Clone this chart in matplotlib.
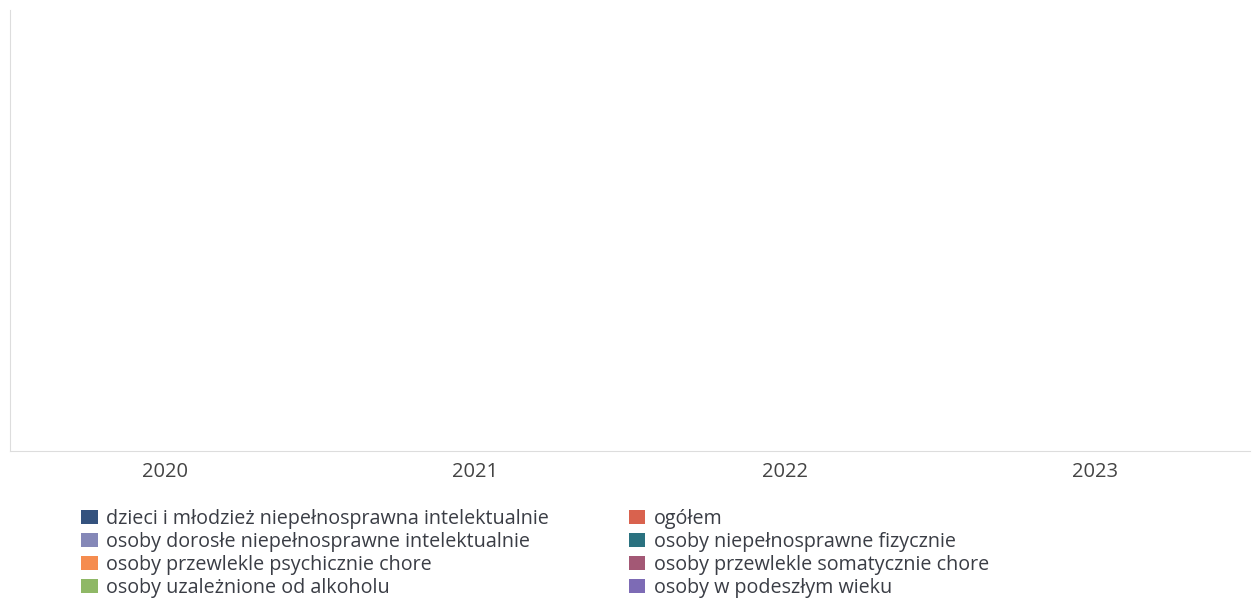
import matplotlib
matplotlib.use("Agg")
import matplotlib.pyplot as plt
import numpy as np

years = ["2020", "2021", "2022", "2023"]
series = [
    "dzieci i młodzież niepełnosprawna intelektualnie",
    "ogółem",
    "osoby dorosłe niepełnosprawne intelektualnie",
    "osoby niepełnosprawne fizycznie",
    "osoby przewlekle psychicznie chore",
    "osoby przewlekle somatycznie chore",
    "osoby uzależnione od alkoholu",
    "osoby w podeszłym wieku",
]
# the reference chart shows no visible bars: all values are zero
values = {
    "dzieci i młodzież niepełnosprawna intelektualnie": [0, 0, 0, 0],
    "ogółem": [0, 0, 0, 0],
    "osoby dorosłe niepełnosprawne intelektualnie": [0, 0, 0, 0],
    "osoby niepełnosprawne fizycznie": [0, 0, 0, 0],
    "osoby przewlekle psychicznie chore": [0, 0, 0, 0],
    "osoby przewlekle somatycznie chore": [0, 0, 0, 0],
    "osoby uzależnione od alkoholu": [0, 0, 0, 0],
    "osoby w podeszłym wieku": [0, 0, 0, 0],
}
colors = {
    "dzieci i młodzież niepełnosprawna intelektualnie": "#34527e",
    "ogółem": "#d9624e",
    "osoby dorosłe niepełnosprawne intelektualnie": "#8588b8",
    "osoby niepełnosprawne fizycznie": "#2b7280",
    "osoby przewlekle psychicznie chore": "#f58c4f",
    "osoby przewlekle somatycznie chore": "#a35875",
    "osoby uzależnione od alkoholu": "#8fb866",
    "osoby w podeszłym wieku": "#7d6bb5",
}

plt.rcParams['font.family'] = ['Open Sans', 'DejaVu Sans']

fig = plt.figure(figsize=(12.52, 6.01), dpi=100)
ax = fig.add_axes([10/1252, 150/601, 1240/1252, 441/601])

x = np.arange(len(years))
n = len(series)
w = 0.8 / n
handles = {}
for i, s in enumerate(series):
    handles[s] = ax.bar(x - 0.4 + w * (i + 0.5), values[s], width=w, color=colors[s], label=s)

ax.set_xlim(-0.5, len(years) - 0.5)
ax.set_ylim(0, 1)
ax.set_xticks(x)
ax.set_xticklabels(years, fontsize=14.5, color="#444444")
ax.tick_params(axis="x", length=0, pad=8)
ax.set_yticks([])
for side in ["top", "right"]:
    ax.spines[side].set_visible(False)
for side in ["left", "bottom"]:
    ax.spines[side].set_color("#dddddd")
    ax.spines[side].set_linewidth(0.8)

# legend is filled row by row: reorder for matplotlib's column-wise fill
order = series[0::2] + series[1::2]
leg = fig.legend(handles=[handles[s] for s in order], labels=order, ncol=2, loc="upper left",
                 bbox_to_anchor=(63/1252, 1 - 491/601), frameon=False,
                 fontsize=14.2, handlelength=0.85, handleheight=0.75,
                 handletextpad=0.42, labelspacing=0.15, columnspacing=4.05,
                 labelcolor="#3a3d45")

fig.savefig("out.png", dpi=100)
